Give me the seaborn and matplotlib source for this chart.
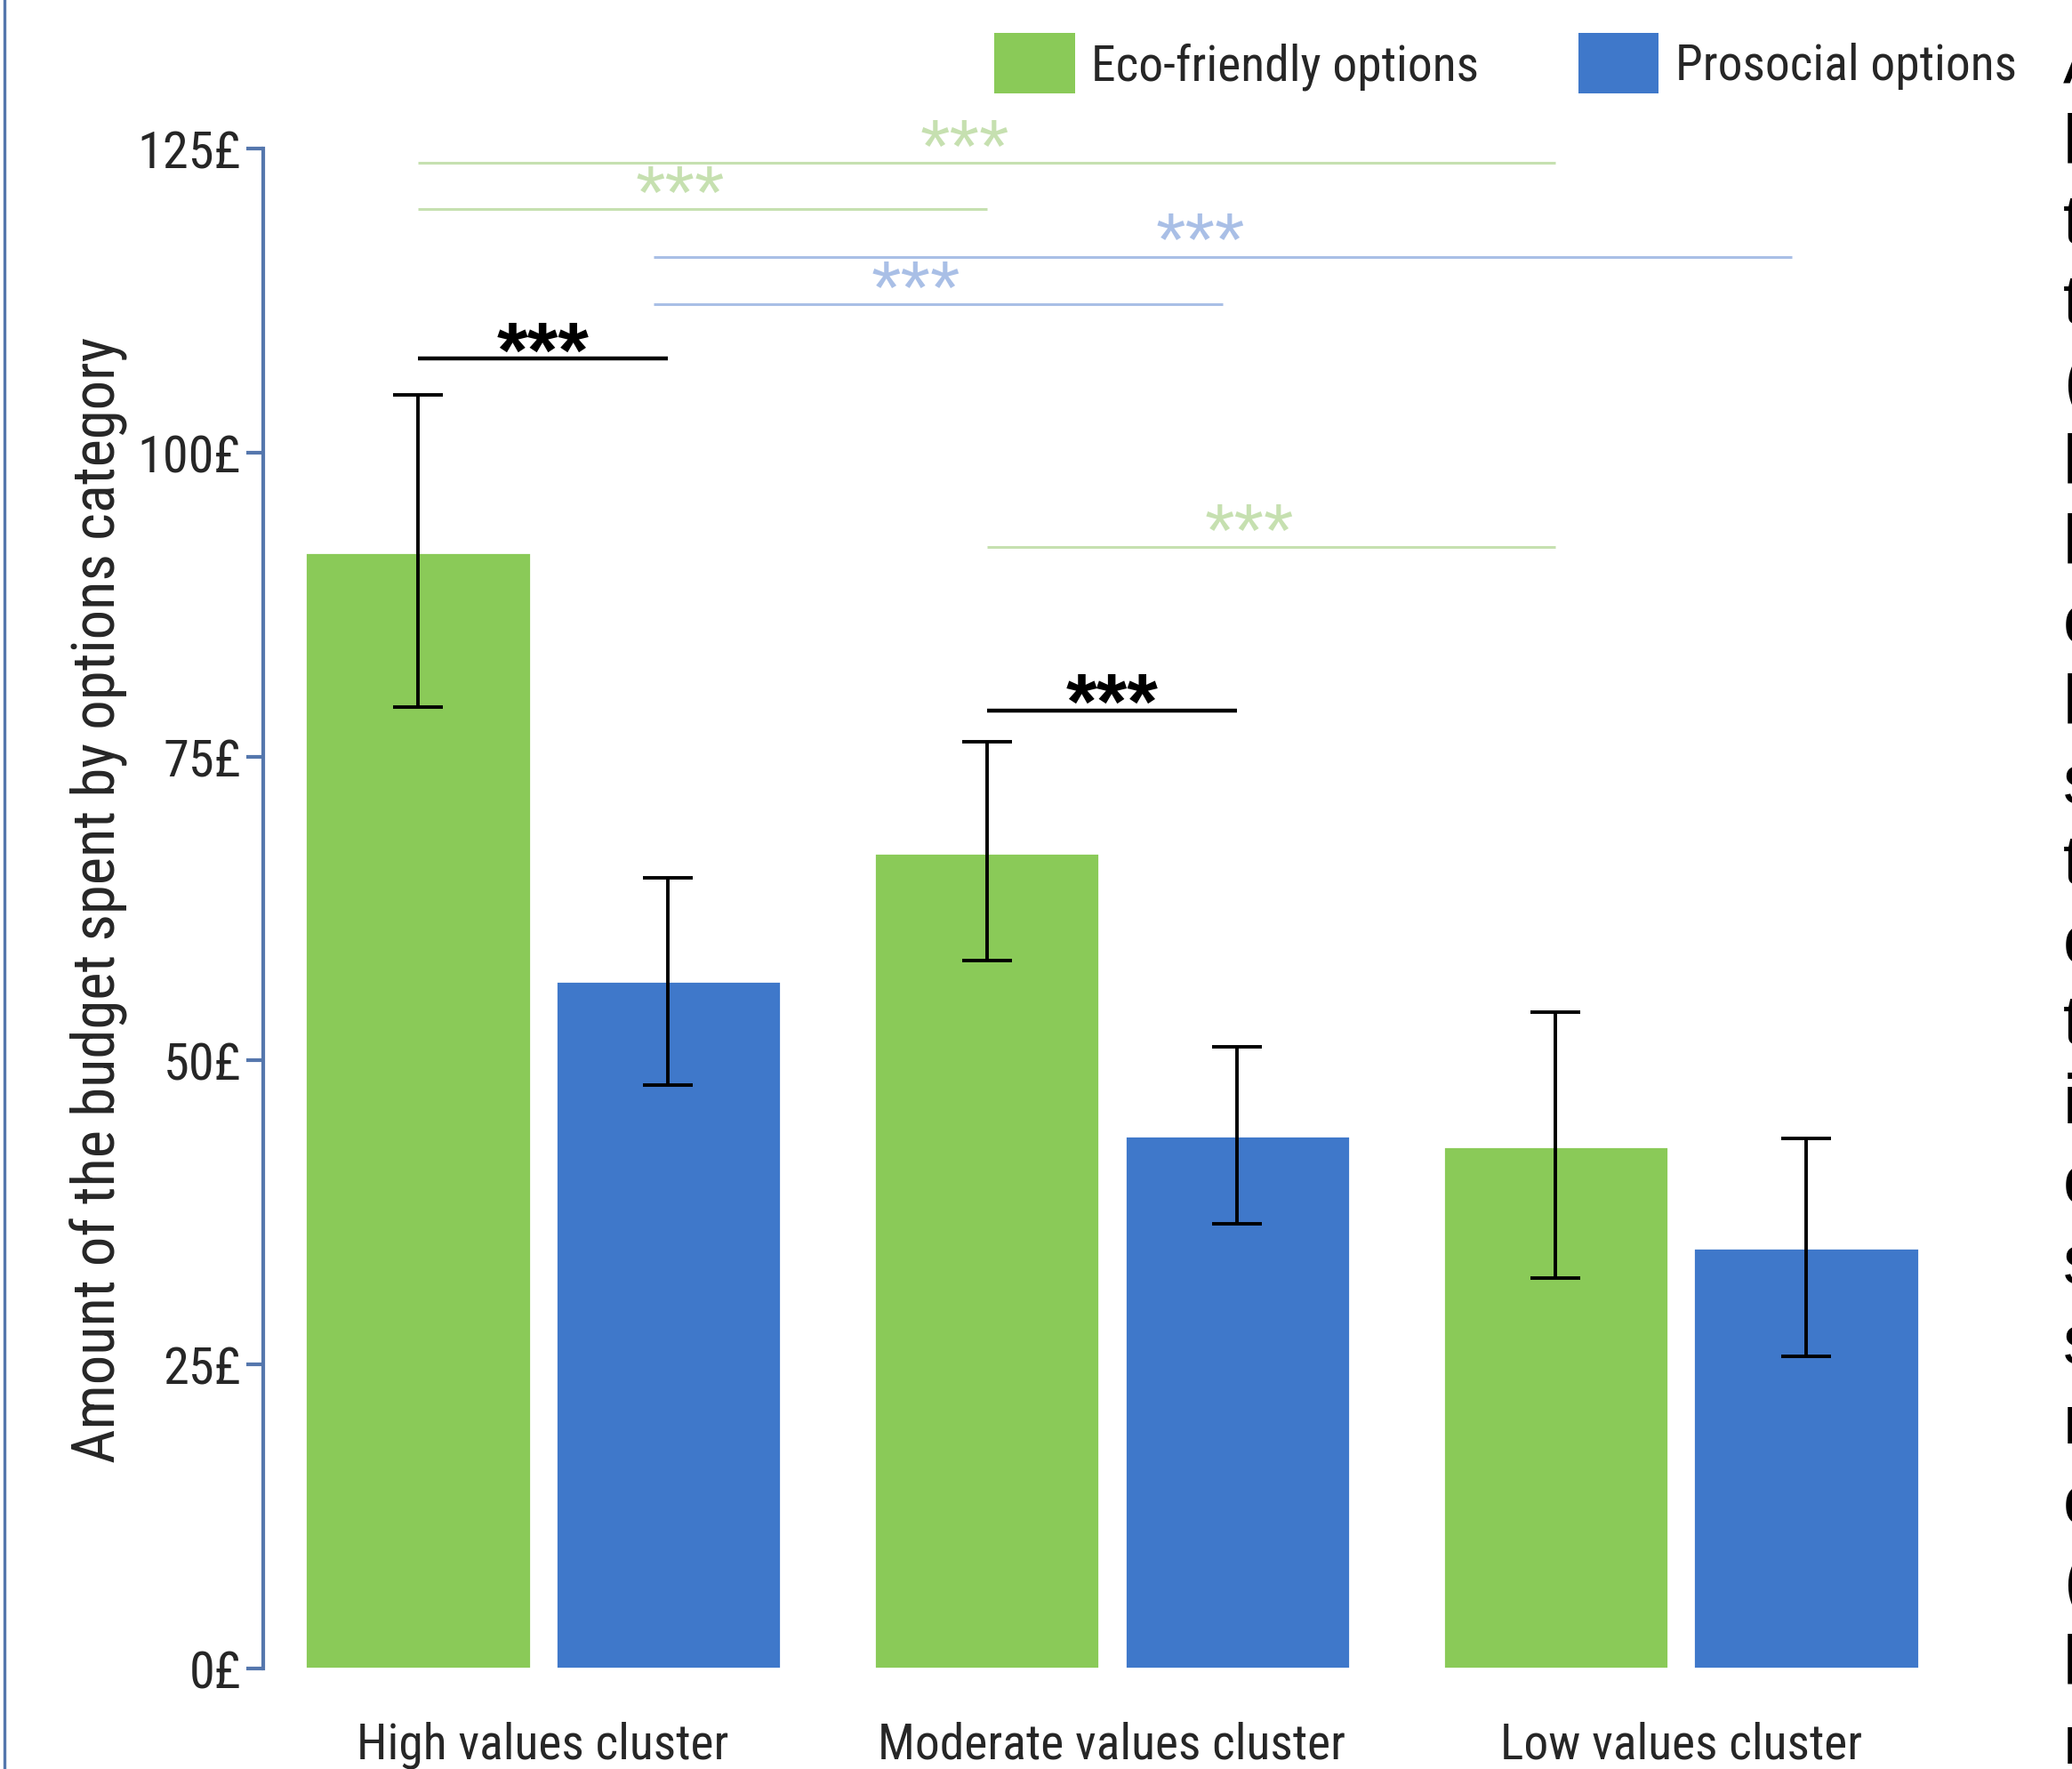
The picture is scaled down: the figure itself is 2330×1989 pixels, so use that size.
import matplotlib
matplotlib.use("Agg")
import matplotlib.pyplot as plt
import matplotlib.font_manager as fm
from matplotlib.lines import Line2D
from matplotlib.patches import Patch
import numpy as np
import pandas as pd
import seaborn as sns

# data
clusters = ["High values cluster", "Moderate values cluster", "Low values cluster"]
options = ["Eco-friendly options", "Prosocial options"]
eco_mean = [91.8, 67.1, 42.9]
eco_low = [79.1, 58.2, 32.1]
eco_high = [104.7, 76.2, 54.0]
pro_mean = [56.5, 43.8, 34.6]
pro_low = [48.0, 36.6, 25.7]
pro_high = [65.0, 51.1, 43.6]
y_ticks = [0, 25, 50, 75, 100, 125]

# pairwise comparisons: (option a, cluster a, option b, cluster b, bracket height, kind)
comparisons = [
    (0, 0, 0, 2, 123.8, "eco"),
    (0, 0, 0, 1, 120.0, "eco"),
    (1, 0, 1, 2, 116.1, "pro"),
    (1, 0, 1, 1, 112.2, "pro"),
    (0, 0, 1, 0, 107.7, "within"),
    (0, 1, 0, 2, 92.2, "eco"),
    (0, 1, 1, 1, 78.8, "within"),
]

# left edge of the caption text that the crop cut off
caption_letters = ["A", "l", "t", "t", "(", "l", "l", "c", "l", "s", "t",
                   "c", "t", "i", "c", "s", "s", "r", "c", "(", "l", "r"]

GREEN = "#8aca58"
BLUE = "#3f78ca"
LIGHT = {"eco": "#c6e0b0", "pro": "#a9bfe6", "within": "black"}
AXIS_BLUE = "#5577ad"


def pick_font(cands):
    names = {f.name for f in fm.fontManager.ttflist}
    for c in cands:
        if c in names:
            return c
    return None


sns.set_style("white")
narrow = pick_font(["Liberation Sans Narrow", "Roboto Condensed", "Open Sans Condensed"])
if narrow:
    plt.rcParams["font.family"] = [narrow, "DejaVu Sans"]
else:
    plt.rcParams["font.family"] = ["DejaVu Sans"]
    plt.rcParams["font.stretch"] = "condensed"

df = pd.DataFrame({
    "cluster": clusters * 2,
    "option": [options[0]] * 3 + [options[1]] * 3,
    "amount": eco_mean + pro_mean,
})

fig = plt.figure(figsize=(11.65, 9.95), dpi=200)
ax = fig.add_axes([0.127, 0.0568, 0.849, 0.8588])

sns.barplot(data=df, x="cluster", y="amount", hue="option", order=clusters,
            hue_order=options, palette=[GREEN, BLUE], width=0.88, gap=0.1,
            saturation=1, errorbar=None, legend=False, ax=ax)

centers = []
for cont, mean, lo, hi in [(ax.containers[0], eco_mean, eco_low, eco_high),
                           (ax.containers[1], pro_mean, pro_low, pro_high)]:
    xs = [b.get_x() + b.get_width() / 2 for b in cont]
    centers.append(xs)
    m = np.array(mean)
    yerr = [m - np.array(lo), np.array(hi) - m]
    ax.errorbar(xs, m, yerr=yerr, fmt="none", ecolor="black", elinewidth=1.4,
                capsize=10, capthick=1.4, zorder=3)

for oa, ca, ob, cb, h, kind in comparisons:
    x1, x2 = centers[oa][ca], centers[ob][cb]
    col = LIGHT[kind]
    if kind == "within":
        ax.plot([x1, x2], [h, h], color=col, lw=1.6, solid_capstyle="butt", clip_on=False)
        ax.annotate("***", xy=((x1 + x2) / 2, h), xytext=(0, -7), textcoords="offset points",
                    ha="center", va="baseline", fontsize=32, color=col,
                    family="Liberation Sans", fontweight="bold")
    else:
        if kind == "pro":
            x1, x2 = x1 - 0.025, x2 - 0.025
        ax.plot([x1, x2], [h, h], color=col, lw=1.1, solid_capstyle="butt", clip_on=False)
        ax.annotate("***", xy=((x1 + x2) / 2, h), xytext=(-9, -3.5), textcoords="offset points",
                    ha="center", va="baseline", fontsize=31, color=col,
                    family="Liberation Sans")

ax.set_xlim(-0.492, 2.6)
ax.set_ylim(0, 125)
ax.set_yticks(y_ticks)
ax.set_yticklabels([f"{v}£" for v in y_ticks])
ax.set_xlabel("")
ax.set_ylabel("")
for s in ["top", "right", "bottom"]:
    ax.spines[s].set_visible(False)
ax.spines["left"].set_color(AXIS_BLUE)
ax.spines["left"].set_linewidth(1.5)
ax.tick_params(axis="y", length=7, width=1.5, color=AXIS_BLUE, pad=2,
               labelsize=21, left=True)
ax.tick_params(axis="x", length=0, pad=21, labelsize=20)

fig.text(111 / 2330, 0.4915, "Amount of the budget spent by options category",
         rotation=90, ha="center", va="center", fontsize=24)

handles = [Patch(facecolor=GREEN, edgecolor="none"), Patch(facecolor=BLUE, edgecolor="none")]
ax.legend(handles, options, loc="center right", bbox_to_anchor=(2268 / 2330, 1 - 72 / 1990),
          bbox_transform=fig.transFigure, ncol=2, frameon=False, fontsize=20,
          handlelength=1.63, handleheight=1.53, handletextpad=0.34, columnspacing=2.0,
          borderpad=0, borderaxespad=0)

# page border on the left and clipped caption on the right
fig.add_artist(Line2D([0.0022, 0.0022], [0, 1], transform=fig.transFigure,
                      color=AXIS_BLUE, lw=1.2))
for i, ch in enumerate(caption_letters):
    fig.text((2330 - 10) / 2330, 1 - (73 + 90 * i) / 1990, ch, ha="left", va="center",
             fontsize=28, family="Liberation Sans", color="black")

fig.savefig("out.png", dpi=200)
